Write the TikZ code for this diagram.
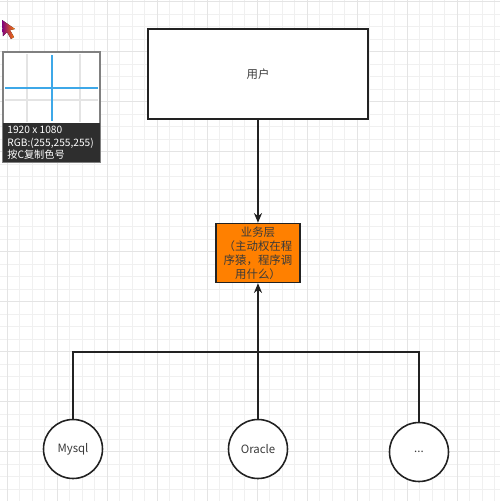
\documentclass[tikz,border=0pt]{standalone}
\usepackage{fontspec}
\setmainfont{Noto Sans CJK SC}
\usetikzlibrary{arrows.meta}
\definecolor{gridminor}{HTML}{F0F0F0}
\definecolor{gridmajor}{HTML}{E4E4E4}
\definecolor{linecol}{HTML}{222222}
\definecolor{textcol}{HTML}{3A3A3A}
\definecolor{bizorange}{HTML}{FF8000}
\definecolor{pickblue}{HTML}{3EA8E8}
\definecolor{pickdark}{HTML}{2E2E2E}
\tikzset{
  box/.style={draw=linecol,line width=0.9pt,fill=white,text=textcol,font=\fontsize{6.5}{8}\selectfont},
  bizbox/.style={box,fill=bizorange,align=center,inner sep=1pt},
  db/.style={draw=linecol,line width=0.9pt,circle,fill=white,minimum size=1.18cm,inner sep=0pt,text=textcol,font=\fontsize{6.5}{8}\selectfont},
  link/.style={draw=linecol,line width=0.85pt},
  tip/.style={-{Stealth[length=5.5pt,width=4.6pt]}}
}
\begin{document}
\begin{tikzpicture}[x=0.02cm,y=-0.02cm]
\useasboundingbox(0,0)rectangle(500,501);
\fill[white](0,0)rectangle(500,501);
% grid
\foreach \gx in {7.3,19.8,...,500}\draw[gridminor,line width=0.4pt](\gx,0)--(\gx,501);
\foreach \gy in {1.7,14.2,...,501}\draw[gridminor,line width=0.4pt](0,\gy)--(500,\gy);
\foreach \gx in {7.3,57.3,...,500}\draw[gridmajor,line width=0.4pt](\gx,0)--(\gx,501);
\foreach \gy in {1.7,51.7,...,501}\draw[gridmajor,line width=0.4pt](0,\gy)--(500,\gy);
% colour picker overlay
\fill[left color=violet,right color=orange](2,20)--(3,36)--(7,32)--(11,39)--(14,37)--(10,30)--(15,29)--cycle;
\draw[gray,line width=0.6pt,fill=white](3,52)rectangle(100,162);
\draw[gridmajor,line width=0.6pt](27,54)--(27,122)(80,54)--(80,122)(5,100)--(98,100);
\draw[pickblue,line width=1.6pt](52,55)--(52,121)(5,88)--(98,88);
\fill[pickdark](3,123)rectangle(100,162);
\node[anchor=north west,align=left,text=white,inner sep=0pt,
  font=\fontsize{5.8}{7}\selectfont](pick)at(7,126){1920 x 1080\\RGB:(255,255,255)\\按C复制色号};
% diagram
\node[box,minimum width=4.4cm,minimum height=1.8cm](user)at(258,74){用户};
\node[bizbox,minimum width=1.68cm,minimum height=1.18cm,text width=1.6cm](biz)at(258,253)
  {业务层\\（主动权在程\\序猿，程序调\\用什么）};
\node[db](mysql)at(73,449){Mysql};
\node[db](oracle)at(258,449){Oracle};
\node[db](etc)at(419,452){...};
\coordinate(bus)at(258,352);
\draw[link,tip](user)--(biz);
\draw[link,tip](bus)--(biz);
\draw[link](mysql)|-(bus)-|(etc);
\draw[link](oracle)--(bus);
\end{tikzpicture}
\end{document}
